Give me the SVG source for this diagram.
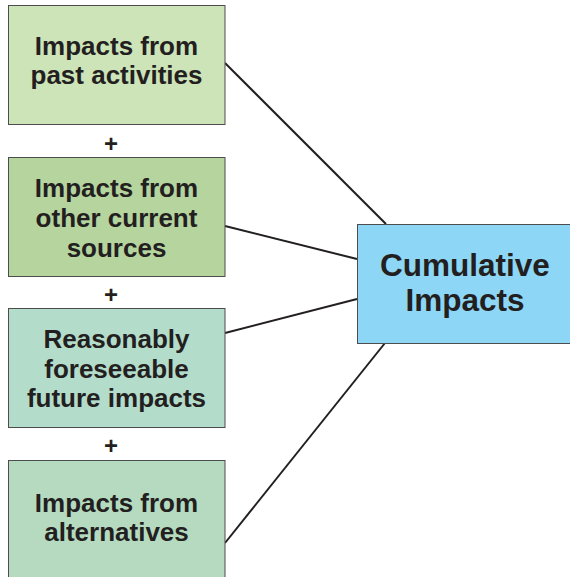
<svg xmlns="http://www.w3.org/2000/svg" width="570" height="577" viewBox="0 0 570 577">
<style>
.box{stroke:#4d4d4d;stroke-width:1}
.t{font-family:"Liberation Sans",Arial,sans-serif;font-weight:bold;fill:#231f20;text-anchor:middle}
.s{font-size:26px}
.b{font-size:31.5px}
.p{font-size:24px}
.c{stroke:#231f20;stroke-width:2;fill:none}
</style>
<rect width="570" height="577" fill="#fff"/>
<g id="connectors">
<line class="c" x1="225" y1="63" x2="386" y2="224"/>
<line class="c" x1="225" y1="226" x2="357" y2="259"/>
<line class="c" x1="225" y1="333" x2="357" y2="299"/>
<line class="c" x1="225" y1="543" x2="385" y2="343"/>
</g>
<g id="past">
<rect class="box" x="8.5" y="5.5" width="216.5" height="119" fill="#cde4b8"/>
<text class="t s" x="116.5" y="55">Impacts from</text>
<text class="t s" x="116.5" y="84">past activities</text>
</g>
<g id="plus1"><text class="t p" x="111" y="152">+</text></g>
<g id="current">
<rect class="box" x="8.5" y="157.5" width="216.5" height="119" fill="#b5d49e"/>
<text class="t s" x="116.5" y="197">Impacts from</text>
<text class="t s" x="116.5" y="227">other current</text>
<text class="t s" x="116.5" y="257">sources</text>
</g>
<g id="plus2"><text class="t p" x="111" y="303">+</text></g>
<g id="future">
<rect class="box" x="8.5" y="308.5" width="216.5" height="119" fill="#b4dccb"/>
<text class="t s" x="116.5" y="348">Reasonably</text>
<text class="t s" x="116.5" y="378">foreseeable</text>
<text class="t s" x="116.5" y="407">future impacts</text>
</g>
<g id="plus3"><text class="t p" x="111" y="454">+</text></g>
<g id="alternatives">
<rect class="box" x="8.5" y="460.5" width="216.5" height="130" fill="#b5dabf"/>
<text class="t s" x="116.5" y="512">Impacts from</text>
<text class="t s" x="116.5" y="541">alternatives</text>
</g>
<g id="cumulative">
<rect class="box" x="357.5" y="224.5" width="220" height="119" fill="#8dd6f5"/>
<text class="t b" x="465" y="276">Cumulative</text>
<text class="t b" x="465" y="311">Impacts</text>
</g>
</svg>
